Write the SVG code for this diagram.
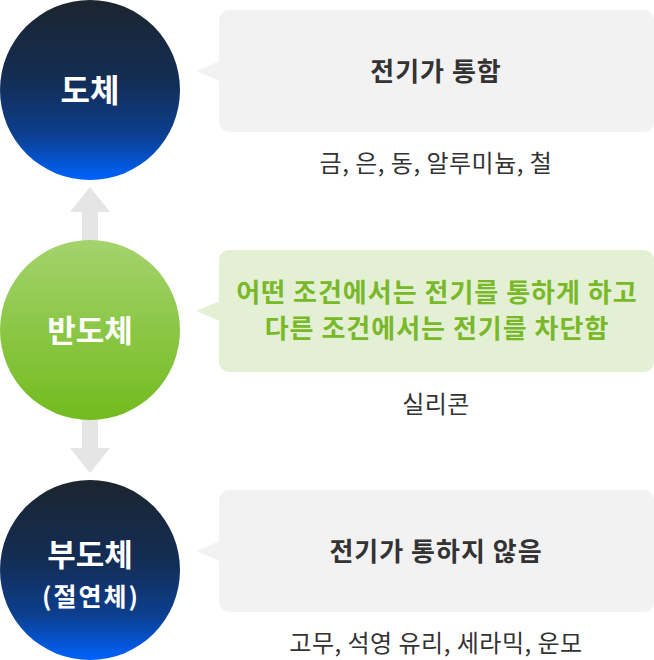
<svg xmlns="http://www.w3.org/2000/svg" width="654" height="660" viewBox="0 0 654 660">
<defs>
<linearGradient id="gBlue" x1="0" y1="0" x2="0" y2="1">
<stop offset="0" stop-color="#1c252f"/>
<stop offset="0.45" stop-color="#132d55"/>
<stop offset="0.75" stop-color="#0c3f8e"/>
<stop offset="1" stop-color="#0062ff"/>
</linearGradient>
<linearGradient id="gGreen" x1="0" y1="0" x2="0" y2="1">
<stop offset="0" stop-color="#a4d36d"/>
<stop offset="1" stop-color="#72bb1e"/>
</linearGradient>
<style>
.lbl{font-family:"Noto Sans CJK KR","Noto Sans",sans-serif;font-weight:700;fill:#fff;text-anchor:middle}
.main{font-family:"Noto Sans CJK KR","Noto Sans",sans-serif;font-weight:700;font-size:26px;letter-spacing:1px;fill:#333;text-anchor:middle}
.grn{fill:#78b829}
.sub{font-family:"Noto Sans CJK KR","Noto Sans",sans-serif;font-weight:400;font-size:24px;letter-spacing:0.5px;fill:#333;text-anchor:middle}
.box{fill:#f2f2f2}
.gbox{fill:#e4f0d4}
.arr{fill:#e5e5e5}
</style>
</defs>
<g id="connectors">
<polygon class="arr" points="90,187 110,212 98,212 98,250 82,250 82,212 70,212"/>
<polygon class="arr" points="90,473 110,448 98,448 98,410 82,410 82,448 70,448"/>
</g>
<g id="node-conductor">
<circle cx="90" cy="90" r="90" fill="url(#gBlue)"/>
<text class="lbl" x="90" y="102" font-size="32">도체</text>
</g>
<g id="node-semiconductor">
<circle cx="90" cy="330" r="90" fill="url(#gGreen)"/>
<text class="lbl" x="90" y="342" font-size="31">반도체</text>
</g>
<g id="node-insulator">
<circle cx="90" cy="570" r="90" fill="url(#gBlue)"/>
<text class="lbl" x="90" y="566" font-size="31">부도체</text>
<text class="lbl" x="91" y="606" font-size="25" letter-spacing="2">(절연체)</text>
</g>
<g id="callout-conductor">
<rect class="box" x="219" y="10" width="435" height="122" rx="10"/>
<polygon class="box" points="196,71 220,61 220,81"/>
<text class="main" x="436" y="81">전기가 통함</text>
<text class="sub" x="436" y="172">금, 은, 동, 알루미늄, 철</text>
</g>
<g id="callout-semiconductor">
<rect class="gbox" x="219" y="250" width="435" height="122" rx="10"/>
<polygon class="gbox" points="196,311 220,301 220,321"/>
<text class="main grn" x="437" y="302">어떤 조건에서는 전기를 통하게 하고</text>
<text class="main grn" x="437" y="338">다른 조건에서는 전기를 차단함</text>
<text class="sub" x="436" y="413">실리콘</text>
</g>
<g id="callout-insulator">
<rect class="box" x="219" y="490" width="435" height="122" rx="10"/>
<polygon class="box" points="196,551 220,541 220,561"/>
<text class="main" x="436" y="561">전기가 통하지 않음</text>
<text class="sub" x="436" y="652">고무, 석영 유리, 세라믹, 운모</text>
</g>
</svg>
